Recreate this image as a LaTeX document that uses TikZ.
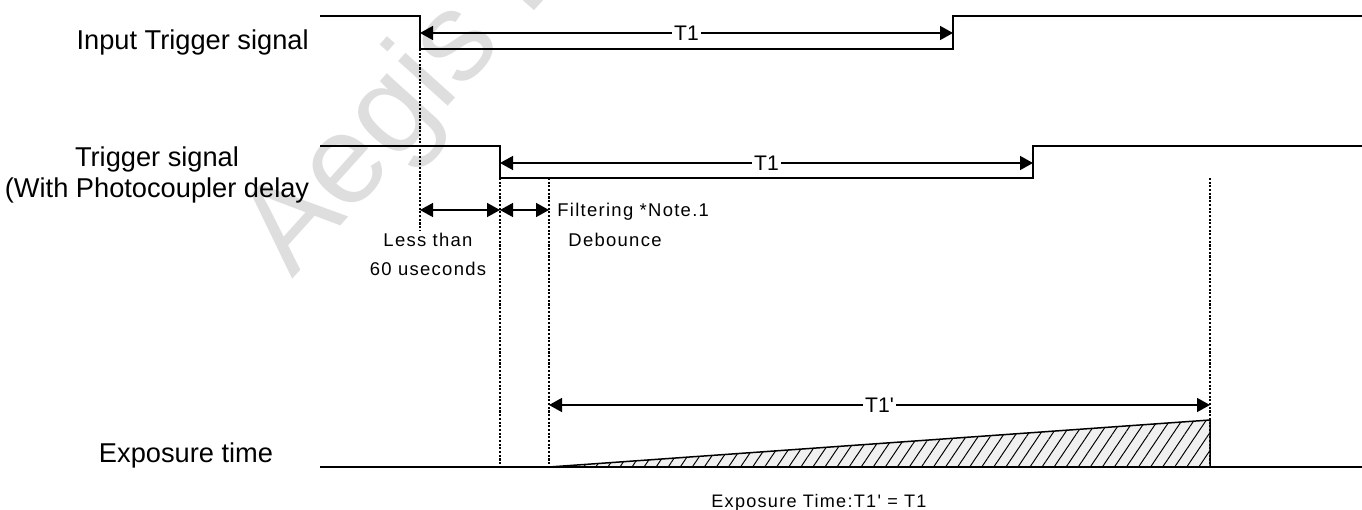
\documentclass[tikz,border=0pt]{standalone}
\usepackage{fontspec}
\setmainfont{Liberation Sans}[Ligatures=TeXOff]
\newfontfamily\spacedfont{Liberation Sans}[Ligatures=TeXOff, LetterSpace=7]
\usetikzlibrary{arrows.meta, calc, patterns.meta}

\begin{document}
\begin{tikzpicture}[x=0.02cm, y=-0.02cm, >={Triangle[length=2.6mm, width=2.8mm]},
  sig/.style={line width=1.1pt},
  guide/.style={line width=0.7pt, dash pattern=on 1.2pt off 0.9pt},
  dim/.style={line width=0.85pt, <->},
  biglabel/.style={font=\fontsize{15.5}{17.6}\selectfont, inner sep=0pt},
  smalllabel/.style={font=\spacedfont\fontsize{10.5}{12}\selectfont, inner sep=0pt},
  tlabel/.style={font=\fontsize{12}{13}\selectfont, fill=white, inner sep=1pt}]
  \useasboundingbox (0,0) rectangle (1362,510);

  % watermark
  \begin{scope}
    \clip (0,0) rectangle (1362,510);
    \node[anchor=base west, rotate=48, text=black!13, font=\fontsize{72}{72}\selectfont, inner sep=0pt] (mark) at (292,280) {Aegis E};
  \end{scope}

  % input trigger
  \coordinate (inStart) at (320,16);
  \coordinate (inFallHi) at (420,16);
  \coordinate (inFallLo) at (420,49);
  \coordinate (inRiseLo) at (953,49);
  \coordinate (inRiseHi) at (953,16);
  \coordinate (inEnd) at (1362,16);
  \draw[sig] (inStart) -- (inFallHi) -- (inFallLo) -- (inRiseLo) -- (inRiseHi) -- (inEnd);
  \node[biglabel, anchor=base east] (inLabel) at (309,50) {Input Trigger signal};
  \coordinate (inT1a) at (420,33);
  \coordinate (inT1b) at (953,33);
  \draw[dim] (inT1a) -- node[tlabel] {T1} (inT1b);

  % trigger after photocoupler
  \coordinate (trStart) at (320,146);
  \coordinate (trFallHi) at (500,146);
  \coordinate (trFallLo) at (500,178);
  \coordinate (trRiseLo) at (1033,178);
  \coordinate (trRiseHi) at (1033,146);
  \coordinate (trEnd) at (1362,146);
  \draw[sig] (trStart) -- (trFallHi) -- (trFallLo) -- (trRiseLo) -- (trRiseHi) -- (trEnd);
  \node[biglabel, align=center, anchor=base] (trLabel) at (157,197) {Trigger signal\\(With Photocoupler delay};
  \coordinate (trT1a) at (500,163);
  \coordinate (trT1b) at (1033,163);
  \draw[dim] (trT1a) -- node[tlabel] {T1} (trT1b);

  % guides
  \coordinate (delayBot) at (420,230);
  \coordinate (trGuideBot) at (500,467);
  \coordinate (filtTop) at (549,178);
  \coordinate (filtBot) at (549,467);
  \coordinate (expEndTop) at (1210,178);
  \coordinate (expEndBot) at (1210,467);
  \draw[guide] (inFallLo) -- (delayBot);
  \draw[guide] (trFallLo) -- (trGuideBot);
  \draw[guide] (filtTop) -- (filtBot);

  % delay and debounce
  \coordinate (delayA) at (420,210);
  \coordinate (delayB) at (500,210);
  \coordinate (filtA) at (549,210);
  \draw[dim] (delayA) -- (delayB);
  \draw[dim] (delayB) -- (filtA);
  \node[smalllabel, anchor=base west] (filtLabel) at (557,216) {Filtering *Note.1};
  \node[smalllabel, anchor=base] (debLabel) at (615,246) {Debounce};
  \node[smalllabel, anchor=base, align=center] (delayLabel) at (428,275) {Less than\\[4pt]60 useconds};

  % exposure
  \coordinate (expStart) at (320,467);
  \coordinate (expEnd) at (1362,467);
  \coordinate (expTop) at (1210,420);
  \fill[black!6] (filtBot) -- (expTop) -- (expEndBot) -- cycle;
  \path[pattern={Lines[angle=56, distance=2mm, line width=0.55pt]}] (filtBot) -- (expTop) -- (expEndBot) -- cycle;
  \draw[sig] (expStart) -- (expEnd);
  \draw[line width=0.85pt] (filtBot) -- (expTop) -- (expEndBot);
  \draw[guide] (expEndTop) -- (expEndBot);
  \node[biglabel, anchor=base] (expLabel) at (186,462) {Exposure time};
  \coordinate (expT1a) at (549,405);
  \coordinate (expT1b) at (1210,405);
  \draw[dim] (expT1a) -- node[tlabel] {T1'} (expT1b);
  \node[smalllabel, anchor=base west, font=\spacedfont\fontsize{10.3}{12}\selectfont] (formula) at (711,507) {Exposure Time:T1' = T1};
\end{tikzpicture}
\end{document}
